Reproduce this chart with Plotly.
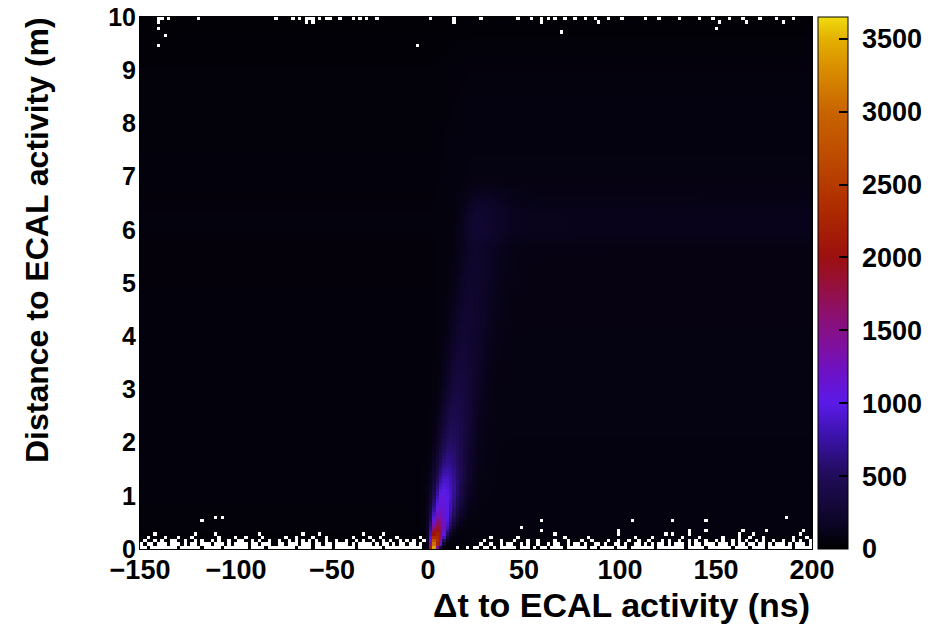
import numpy as np
import plotly.graph_objects as go

# ---------------- data ----------------
x_range = [-150, 200]          # ns
y_range = [0, 10]              # m
n_xbins = 200
n_ybins = 160

# background level (counts/bin) vs distance, left (dt<0) and right (dt>20) of the peak
bg_y = [0.0, 0.5, 1.0, 2.0, 4.0, 5.7, 5.95, 6.3, 6.6, 7.0, 9.0, 10.0]
bg_left = [30, 45, 50, 50, 50, 52, 55, 55, 52, 50, 40, 25]
bg_right = [50, 70, 75, 75, 80, 80, 80, 80, 80, 80, 55, 30]
band_extra = [0, 0, 0, 0, 0, 5, 45, 45, 12, 0, 0, 0]
# relative strength of the 6 m band along dt
band_x = [-150, 14, 24, 32, 60, 120, 200]
band_gain = [0.0, 0.0, 1.3, 1.2, 1.0, 0.9, 0.85]

# prompt plume (distance vs dt)
plume_y = [0.03, 0.1, 0.2, 0.3, 0.45, 0.6, 0.8, 1.0, 1.3, 1.6, 2.0, 2.5, 3.0, 3.5, 4.0, 5.0, 6.0, 6.5, 6.9]
plume_center = [2.4, 3.0, 3.6, 4.1, 4.8, 5.5, 6.5, 7.5, 8.8, 10.0, 11.5, 13.2, 15.0, 16.8, 18.5, 22.0, 25.5, 27.0, 28.0]
plume_peak = [3650, 3000, 2500, 2150, 1650, 1300, 1100, 1000, 820, 620, 470, 360, 280, 225, 190, 145, 120, 100, 0]
plume_sig_left = [1.0, 1.3, 1.6, 1.9, 2.3, 2.7, 3.0, 3.3, 3.6, 3.9, 4.1, 4.3, 4.5, 4.8, 5.0, 5.0, 5.0, 5.0, 5.0]
plume_sig_right = [1.8, 2.4, 3.0, 3.6, 4.5, 5.4, 6.0, 6.4, 6.6, 6.8, 7.0, 7.3, 7.6, 8.0, 8.5, 9.0, 9.5, 9.5, 9.5]

# empty bins ('#') in the lowest distance rows, one string per row (bottom row first)
empty_rows_bottom = [
    ["##.#######", "#.######.#", "####.#####", "##.####.##", "######.###",
     "#.#####.##", "####.#####", "##.#######", "####......", "....#..#.#",
     "#.##.#.###", "##.###.#.#", "#.####.###", "###.##.###", "#.###.####",
     "###.######", "##.#####.#", "######.###", "#.####.###", "####.#####"],
    ["#.##.###.#", "##.#.##.##", "#.###.#.##", "##.##.###.", ".##.###.##",
     "#.##.##.##", "##.#.####.", "#.##.#.##.", "##.#......", "..........",
     ".#..#..#.#", "#..#.#..#.", ".#.##..#.#", "#.#..##.#.", ".##.#..##.",
     "#.#.##.#.#", "##.#.##.##", "#.###.#.##", ".##.##.#.#", "##.#.###.#"],
    [".#..#.#..#", "#..#..#.#.", ".#.#..#..#", "#..#.#..#.", ".#..#.#.#.",
     "#.#..#..#.", ".#..#.#..#", "..#.#..#.#", ".#..#.....", "..........",
     "..#....#..", ".#...#..#.", "...#...#..", ".#..#....#", "..#..#..#.",
     ".#...#.#..", "#..#.#..#.", ".#.#..#.#.", "#..#.#..#.", ".#..#.#..#"],
    ["..#....#..", ".#...#....", "...#....#.", ".#....#...", "...#..#...",
     ".#...#....", "...#....#.", ".#....#...", "...#......", "..........",
     "....#.....", "..#.......", "......#...", "...#......", ".......#..",
     "..#.......", ".#....#...", "...#....#.", ".#...#....", "....#...#."],
    ["....#.....", "......#...", "..#.......", ".....#....", "........#.",
     "...#......", "......#...", "..#.......", "..........", "..........",
     "..........", "..........", "...#......", "..........", "..#.......",
     "......#...", "...#......", "........#.", "..#.......", "......#..."],
]
# isolated empty bins (dt ns, distance m)
empty_dots = [(-117, 0.55), (-111, 0.6), (-107, 0.6), (48, 0.4), (49.5, 0.42), (60, 0.55),
              (60, 0.35), (106, 0.55), (99, 0.36), (128, 0.55), (128, 0.3), (145, 0.55),
              (136, 0.36), (145, 0.36), (164, 0.36), (177, 0.36), (195, 0.36), (187, 0.6),
              (-140.6, 9.8), (-137, 9.63), (-139.6, 9.5), (-6, 9.5), (70, 9.75), (150, 9.8)]
# empty bins in the top row (dt ns)
top_row_empty = [-140.6, -138, -134.4, -119.8, -79.7, -70.3, -66.7, -63, -61.5, -59.9, -56.3,
                 -53.6, -51, -45.8, -39, -35.4, -31.8, -26.6, 1, 14, 27, 46.3, 53.1, 58.3, 62.5,
                 66.1, 71.3, 76.5, 81.8, 88, 94.8, 101, 113, 120.8, 131.2, 141.6, 147.9, 157.3,
                 165, 172.9, 182.3, 191.1]
# empty bins in the second row from the top (dt ns)
second_row_empty = [-139.6, -64.1, -59.9, 14, 58.3, 89.6, 152.1, 165.1, 185.9]

z_max = 3650
cbar_ticks = [0, 500, 1000, 1500, 2000, 2500, 3000, 3500]
x_ticks = [-150, -100, -50, 0, 50, 100, 150, 200]
y_ticks = list(range(0, 11))

# ---------------- build the histogram ----------------
x_edges = np.linspace(x_range[0], x_range[1], n_xbins + 1)
y_edges = np.linspace(y_range[0], y_range[1], n_ybins + 1)
xc = 0.5 * (x_edges[:-1] + x_edges[1:])
yc = 0.5 * (y_edges[:-1] + y_edges[1:])

z = np.zeros((n_ybins, n_xbins))
mix = np.interp(xc, [-150, 2, 22, 200], [0, 0, 1, 1])
gain = np.interp(xc, band_x, band_gain)
for j, y in enumerate(yc):
    L = np.interp(y, bg_y, bg_left)
    R = np.interp(y, bg_y, bg_right)
    B = np.interp(y, bg_y, band_extra)
    z[j] = L * (1 - mix) + R * mix + B * gain
    if y <= plume_y[-1]:
        c = np.interp(y, plume_y, plume_center)
        p = np.interp(y, plume_y, plume_peak)
        sl = np.interp(y, plume_y, plume_sig_left)
        sr = np.interp(y, plume_y, plume_sig_right)
        s = np.where(xc < c, sl, sr)
        z[j] += p * np.exp(-0.5 * ((xc - c) / s) ** 2)

for j, segs in enumerate(empty_rows_bottom):
    assert all(len(s) == 10 for s in segs)
    row = "".join(segs)
    assert len(row) == n_xbins
    for i, ch in enumerate(row):
        if ch == "#":
            z[j, i] = np.nan


def bin_of(edges, v, n):
    return int(min(max(np.searchsorted(edges, v) - 1, 0), n - 1))


for (xv, yv) in empty_dots:
    z[bin_of(y_edges, yv, n_ybins), bin_of(x_edges, xv, n_xbins)] = np.nan
for xv in top_row_empty:
    z[n_ybins - 1, bin_of(x_edges, xv, n_xbins)] = np.nan
for xv in second_row_empty:
    z[n_ybins - 2, bin_of(x_edges, xv, n_xbins)] = np.nan

colorscale = [
    [0.0, "#000000"],
    [0.04, "#0a0420"],
    [0.137, "#200c58"],
    [0.21, "#3a12a8"],
    [0.274, "#5a1ae8"],
    [0.33, "#6c12c8"],
    [0.38, "#7e10a0"],
    [0.44, "#8c1070"],
    [0.50, "#961038"],
    [0.548, "#9c1010"],
    [0.63, "#ac2800"],
    [0.74, "#be4c00"],
    [0.822, "#c86400"],
    [0.90, "#d88c00"],
    [0.959, "#e4b000"],
    [1.0, "#f0dc10"],
]

font_family = "Liberation Sans, Arial, sans-serif"

# plot-area geometry in pixels (layout, not data)
plot_l, plot_r, plot_t, plot_b = 140, 812, 17, 549
plot_w = plot_r - plot_l
plot_h = plot_b - plot_t
cb_left = 818
cb_thick = 30

fig = go.Figure(
    go.Heatmap(
        x=xc, y=yc, z=z,
        zmin=0, zmax=z_max,
        colorscale=colorscale,
        hoverinfo="skip",
        colorbar=dict(
            x=1 + (cb_left - plot_r) / plot_w, xanchor="left", xpad=0,
            y=0.5, yanchor="middle", len=1, lenmode="fraction", ypad=0,
            thickness=cb_thick, outlinecolor="black", outlinewidth=1,
            tickvals=cbar_ticks, ticktext=["\u00a0" + str(v) for v in cbar_ticks],
            ticks="inside", ticklen=9, tickwidth=2, tickcolor="black",
            tickfont=dict(family=font_family, size=27, color="black", weight="bold"),
        ),
    )
)

fig.update_xaxes(
    range=x_range, tickvals=x_ticks,
    ticktext=[("\u2212" + str(-v)) if v < 0 else str(v) for v in x_ticks],
    showgrid=False, zeroline=False, showline=True, linecolor="black", linewidth=1, mirror=True,
    ticks="", automargin=False, ticklabelstandoff=-3,
    tickfont=dict(family=font_family, size=27, color="black", weight="bold"),
)
fig.update_yaxes(
    range=y_range, tickvals=y_ticks, ticktext=[str(v) for v in y_ticks],
    showgrid=False, zeroline=False, showline=True, linecolor="black", linewidth=1, mirror=True,
    ticks="", automargin=False, ticklabelstandoff=-2,
    tickfont=dict(family=font_family, size=25, color="black", weight="bold"),
)

fig.add_annotation(
    text="\u0394t to ECAL activity (ns)", xref="paper", yref="paper",
    x=1, y=-(605 - plot_b) / plot_h, xanchor="right", yanchor="middle", showarrow=False,
    font=dict(family=font_family, size=34, color="black", weight="bold"),
)
fig.add_annotation(
    text="Distance to ECAL activity (m)", xref="paper", yref="paper",
    x=(37 - plot_l) / plot_w, y=1 + 2 / plot_h, xanchor="center", yanchor="top", textangle=-90,
    showarrow=False,
    font=dict(family=font_family, size=32, color="black", weight="bold"),
)

fig.update_layout(
    width=940, height=632,
    margin=dict(l=plot_l, r=940 - plot_r, t=plot_t, b=632 - plot_b, autoexpand=False),
    paper_bgcolor="white", plot_bgcolor="white",
    showlegend=False,
)

fig.write_html("out.html")
